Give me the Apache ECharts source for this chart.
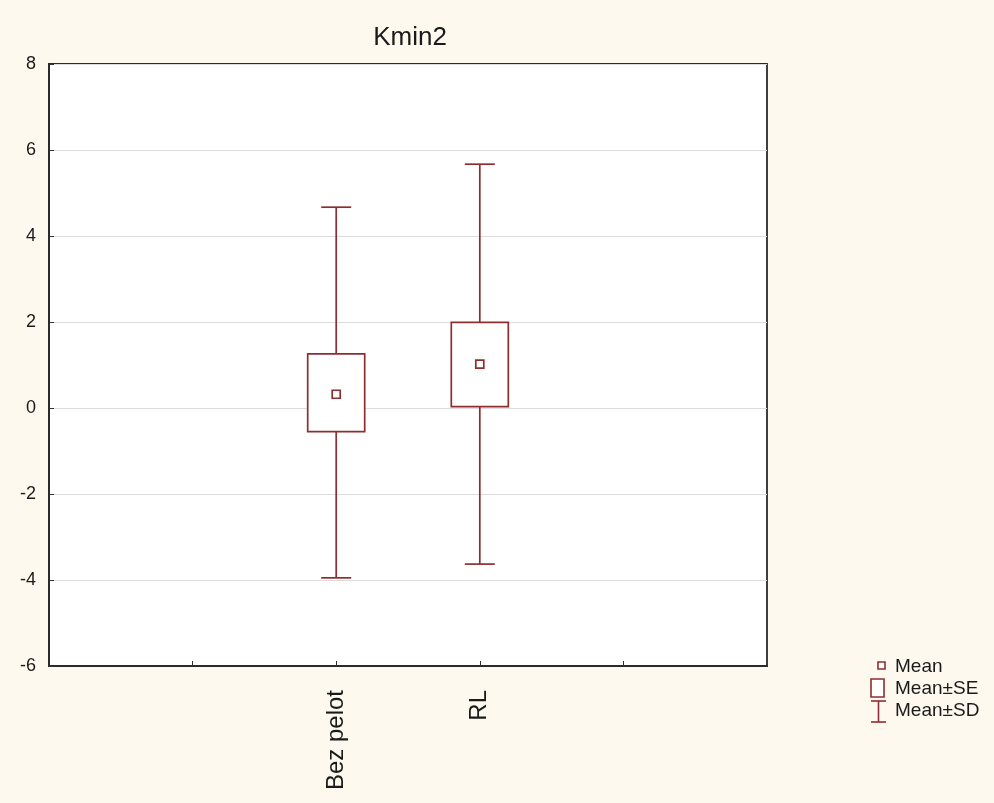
<!DOCTYPE html>
<html>
<head>
<meta charset="utf-8">
<script src="https://cdn.jsdelivr.net/npm/echarts@6/dist/echarts.min.js"></script>
<style>
html,body{margin:0;padding:0;background:#fdf9ef;}
#chart{width:994px;height:803px;}
</style>
</head>
<body>
<div id="chart"></div>
<script>
// Data
var categories = ['Bez pelot', 'RL'];
var categoryPos = [2, 3];
var means = [0.32, 1.02];
var seLow = [-0.55, 0.03];
var seHigh = [1.26, 1.99];
var sdLow = [-3.95, -3.63];
var sdHigh = [4.67, 5.67];
var yTicks = [-6, -4, -2, 0, 2, 4, 6, 8];

var COLOR = '#8e2e30';
var FONT = 'Liberation Sans, Arial, sans-serif';
var data = categories.map(function (c, i) {
  return [categoryPos[i], means[i], seLow[i], seHigh[i], sdLow[i], sdHigh[i]];
});

var chart = echarts.init(document.getElementById('chart'));
chart.setOption({
  backgroundColor: '#fdf9ef',
  animation: false,
  title: {
    text: 'Kmin2', left: 405, top: 20, textAlign: 'center',
    textStyle: { fontFamily: FONT, fontSize: 26, fontWeight: 'normal', color: '#1a1a1a' }
  },
  grid: {
    left: 49, top: 64, right: 227, bottom: 137,
    show: true, backgroundColor: '#ffffff', borderColor: '#2a2a2a', borderWidth: 1.8
  },
  xAxis: {
    type: 'value', min: 0, max: 5, interval: 1,
    axisLine: { show: true, onZero: false, lineStyle: { color: '#2a2a2a', width: 1.8 } },
    axisTick: { show: true, inside: true, length: 5, lineStyle: { color: '#333' } },
    splitLine: { show: false },
    axisLabel: {
      rotate: 90, margin: 24, fontFamily: FONT, fontSize: 24, color: '#1a1a1a',
      showMinLabel: false, showMaxLabel: false,
      formatter: function (v) {
        var idx = categoryPos.indexOf(v);
        return idx >= 0 ? categories[idx] : '';
      }
    }
  },
  yAxis: {
    type: 'value', min: yTicks[0], max: yTicks[yTicks.length - 1], interval: 2,
    axisLine: { show: true, onZero: false, lineStyle: { color: '#2a2a2a', width: 1.8 } },
    axisTick: { show: true, inside: true, length: 5, lineStyle: { color: '#333' } },
    splitLine: { show: true, lineStyle: { color: '#dcdcdc', width: 1.2 } },
    axisLabel: { margin: 13, fontFamily: FONT, fontSize: 18, color: '#1a1a1a' }
  },
  series: [{
    type: 'custom',
    data: data,
    encode: { x: 0, y: [1, 2, 3, 4, 5] },
    renderItem: function (params, api) {
      var x = api.value(0);
      var pm = api.coord([x, api.value(1)]);
      var pSeL = api.coord([x, api.value(2)]);
      var pSeH = api.coord([x, api.value(3)]);
      var pSdL = api.coord([x, api.value(4)]);
      var pSdH = api.coord([x, api.value(5)]);
      var cx = pm[0];
      var bw = 57, cw = 30, mw = 8;
      var st = { stroke: COLOR, lineWidth: 1.7, fill: null };
      return {
        type: 'group',
        children: [
          { type: 'line', shape: { x1: cx, y1: pSdH[1], x2: cx, y2: pSdL[1] }, style: st },
          { type: 'line', shape: { x1: cx - cw / 2, y1: pSdH[1], x2: cx + cw / 2, y2: pSdH[1] }, style: st },
          { type: 'line', shape: { x1: cx - cw / 2, y1: pSdL[1], x2: cx + cw / 2, y2: pSdL[1] }, style: st },
          { type: 'rect', shape: { x: cx - bw / 2, y: pSeH[1], width: bw, height: pSeL[1] - pSeH[1] },
            style: { stroke: COLOR, lineWidth: 1.7, fill: '#ffffff' } },
          { type: 'rect', shape: { x: cx - mw / 2, y: pm[1] - mw / 2, width: mw, height: mw },
            style: { stroke: COLOR, lineWidth: 1.7, fill: '#ffffff' } }
        ]
      };
    }
  }],
  graphic: [
    { type: 'rect', shape: { x: 878, y: 662, width: 7, height: 7 }, style: { stroke: COLOR, lineWidth: 1.6, fill: '#fff' } },
    { type: 'text', x: 895, y: 667, style: { text: 'Mean', font: '19px ' + FONT, fill: '#1a1a1a', textVerticalAlign: 'middle' } },
    { type: 'rect', shape: { x: 871, y: 679, width: 13, height: 18 }, style: { stroke: COLOR, lineWidth: 1.6, fill: '#fff' } },
    { type: 'text', x: 895, y: 689, style: { text: 'Mean±SE', font: '19px ' + FONT, fill: '#1a1a1a', textVerticalAlign: 'middle' } },
    { type: 'line', shape: { x1: 871, y1: 701, x2: 886, y2: 701 }, style: { stroke: COLOR, lineWidth: 1.6 } },
    { type: 'line', shape: { x1: 878.5, y1: 701, x2: 878.5, y2: 722 }, style: { stroke: COLOR, lineWidth: 1.6 } },
    { type: 'line', shape: { x1: 871, y1: 722, x2: 886, y2: 722 }, style: { stroke: COLOR, lineWidth: 1.6 } },
    { type: 'text', x: 895, y: 711, style: { text: 'Mean±SD', font: '19px ' + FONT, fill: '#1a1a1a', textVerticalAlign: 'middle' } }
  ]
});
</script>
</body>
</html>
